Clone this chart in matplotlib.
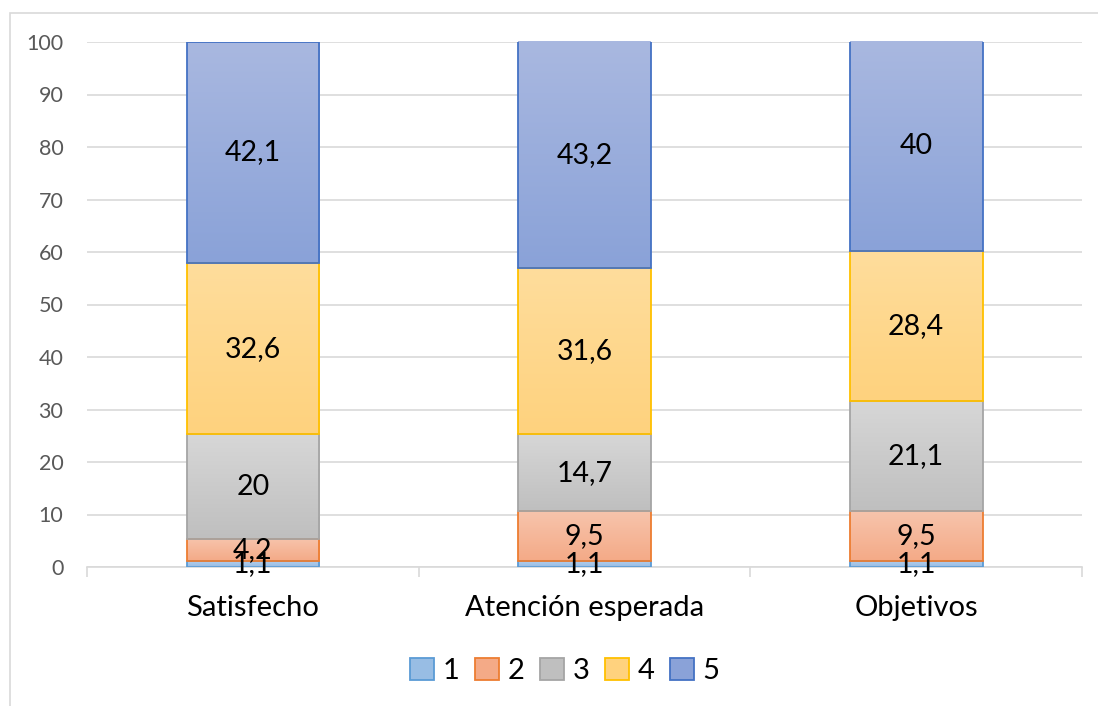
import numpy as np
import matplotlib.pyplot as plt
from matplotlib.colors import LinearSegmentedColormap
from matplotlib.patches import Rectangle

plt.rcParams["font.family"] = ["Lato", "DejaVu Sans"]

categories = ["Satisfecho", "Atención esperada", "Objetivos"]
series_names = ["1", "2", "3", "4", "5"]
s1 = [1.1, 1.1, 1.1]
s2 = [4.2, 9.5, 9.5]
s3 = [20, 14.7, 21.1]
s4 = [32.6, 31.6, 28.4]
s5 = [42.1, 43.2, 40]
values = [s1, s2, s3, s4, s5]
labels = [["1,1", "1,1", "1,1"], ["4,2", "9,5", "9,5"], ["20", "14,7", "21,1"],
          ["32,6", "31,6", "28,4"], ["42,1", "43,2", "40"]]

edge_colors = ["#5B9BD5", "#ED7D31", "#A5A5A5", "#FFC000", "#4472C4"]
top_colors = ["#B1CDEC", "#F7C4AC", "#D7D7D7", "#FEDD9C", "#A9B8E0"]
bot_colors = ["#98BDE4", "#F4AA87", "#BFBFBF", "#FFD27E", "#8AA2D8"]

fig = plt.figure(figsize=(10.98, 7.06), dpi=100)
ax = fig.add_axes([87 / 1098, 1 - 567 / 706, 995 / 1098, 525 / 706])

# outer chart border
fig.add_artist(Rectangle((10 / 1098, -0.05), 1.2, 1 - 13 / 706 + 0.05,
                         transform=fig.transFigure, fill=False,
                         edgecolor="#D9D9D9", lw=1.2))

x = np.arange(len(categories))
width = 0.4
grad = np.linspace(1, 0, 100).reshape(-1, 1)
bottom = np.zeros(len(categories))
for i, vals in enumerate(values):
    cmap = LinearSegmentedColormap.from_list(f"g{i}", [bot_colors[i], top_colors[i]])
    bars = ax.bar(x, vals, width, bottom=bottom, facecolor="none",
                  edgecolor=edge_colors[i], lw=1.3, zorder=3, label=series_names[i])
    for j, b in enumerate(bars):
        x0, y0 = b.get_x(), b.get_y()
        im = ax.imshow(grad, cmap=cmap, aspect="auto", zorder=2,
                       extent=[x0, x0 + b.get_width(), y0, y0 + b.get_height()],
                       origin="upper", vmin=0, vmax=1)
        im.set_clip_path(b)
        ax.text(x[j], y0 + b.get_height() / 2, labels[i][j], ha="center", va="center",
                fontsize=20.5, color="black", zorder=5)
    bottom = bottom + np.array(vals)

ax.set_xlim(-0.5, 2.5)
ax.set_ylim(0, 100)
ax.set_yticks(range(0, 101, 10))
ax.set_xticks(x)
ax.set_xticklabels(categories, fontsize=21)
ax.set_xticks([-0.5, 0.5, 1.5, 2.5], minor=True)
ax.tick_params(axis="x", which="major", length=0, pad=20)
ax.tick_params(axis="x", which="minor", length=7.5, width=1.2, color="#D9D9D9", direction="out")
ax.tick_params(axis="y", length=0, labelsize=15.5, labelcolor="#595959", pad=17)
ax.grid(axis="y", color="#D9D9D9", lw=1.2, zorder=0)
ax.set_axisbelow(True)
for side in ["top", "right", "left"]:
    ax.spines[side].set_visible(False)
ax.spines["bottom"].set_color("#D9D9D9")
ax.spines["bottom"].set_linewidth(1.2)

handles = [Rectangle((0, 0), 1, 1, facecolor=bot_colors[i], edgecolor=edge_colors[i], lw=1.3)
           for i in range(5)]
fig.legend(handles, series_names, loc="center", bbox_to_anchor=(565 / 1098, 1 - 671 / 706),
           ncol=5, frameon=False, fontsize=21, handlelength=0.8, handleheight=0.8,
           handletextpad=0.3, columnspacing=0.55)

fig.savefig("out.png", dpi=100)
